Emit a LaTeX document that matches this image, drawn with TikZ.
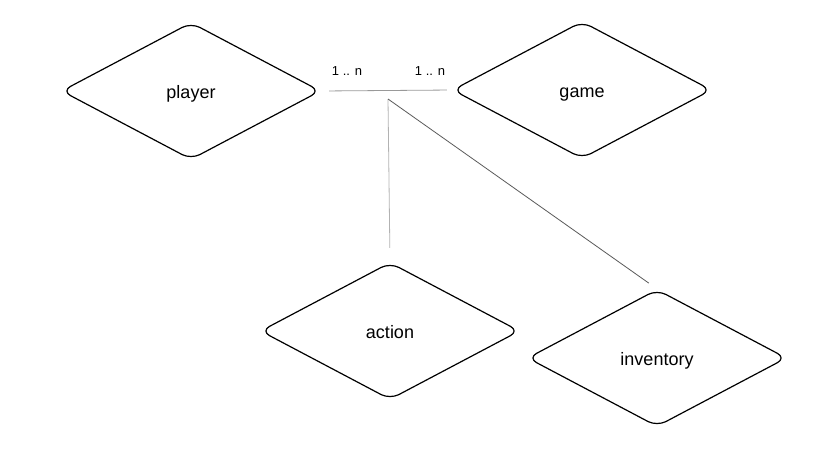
\documentclass[tikz,border=0pt]{standalone}
\usepackage{fontspec}
\setmainfont{Liberation Sans}
\usetikzlibrary{shapes.geometric}

\begin{document}
\begin{tikzpicture}[x=1pt, y=-1pt,
  entity/.style = {diamond, draw, line width=1.2pt, rounded corners=10pt,
    inner sep=0pt, minimum width=259pt, minimum height=137pt,
    text height=18pt, text depth=4pt,
    font=\fontsize{18}{21}\selectfont},
  card/.style = {font=\fontsize{13}{15}\selectfont},
  link/.style = {line width=0.8pt}
]
\useasboundingbox (0,0) rectangle (827,467);

\node[entity] (player) at (191,91) {player};
\node[entity] (game) at (582,90) {game};
\node[entity] (action) at (390,331) {action};
\node[entity] (inventory) at (657,358) {inventory};

\coordinate (joint) at (388,99);

\draw [link, gray!80, shorten <=8pt, shorten >=5pt] (player.east) -- (game.west);
\draw [link, gray!60, shorten >=14pt] (joint) -- (action.north);
\draw [link, black!65, shorten >=10pt] (joint) -- (inventory.north);

\node[card] (cardplayer) at (347,71) {1 .. n};
\node[card] (cardgame) at (430,71) {1 .. n};

\end{tikzpicture}
\end{document}
